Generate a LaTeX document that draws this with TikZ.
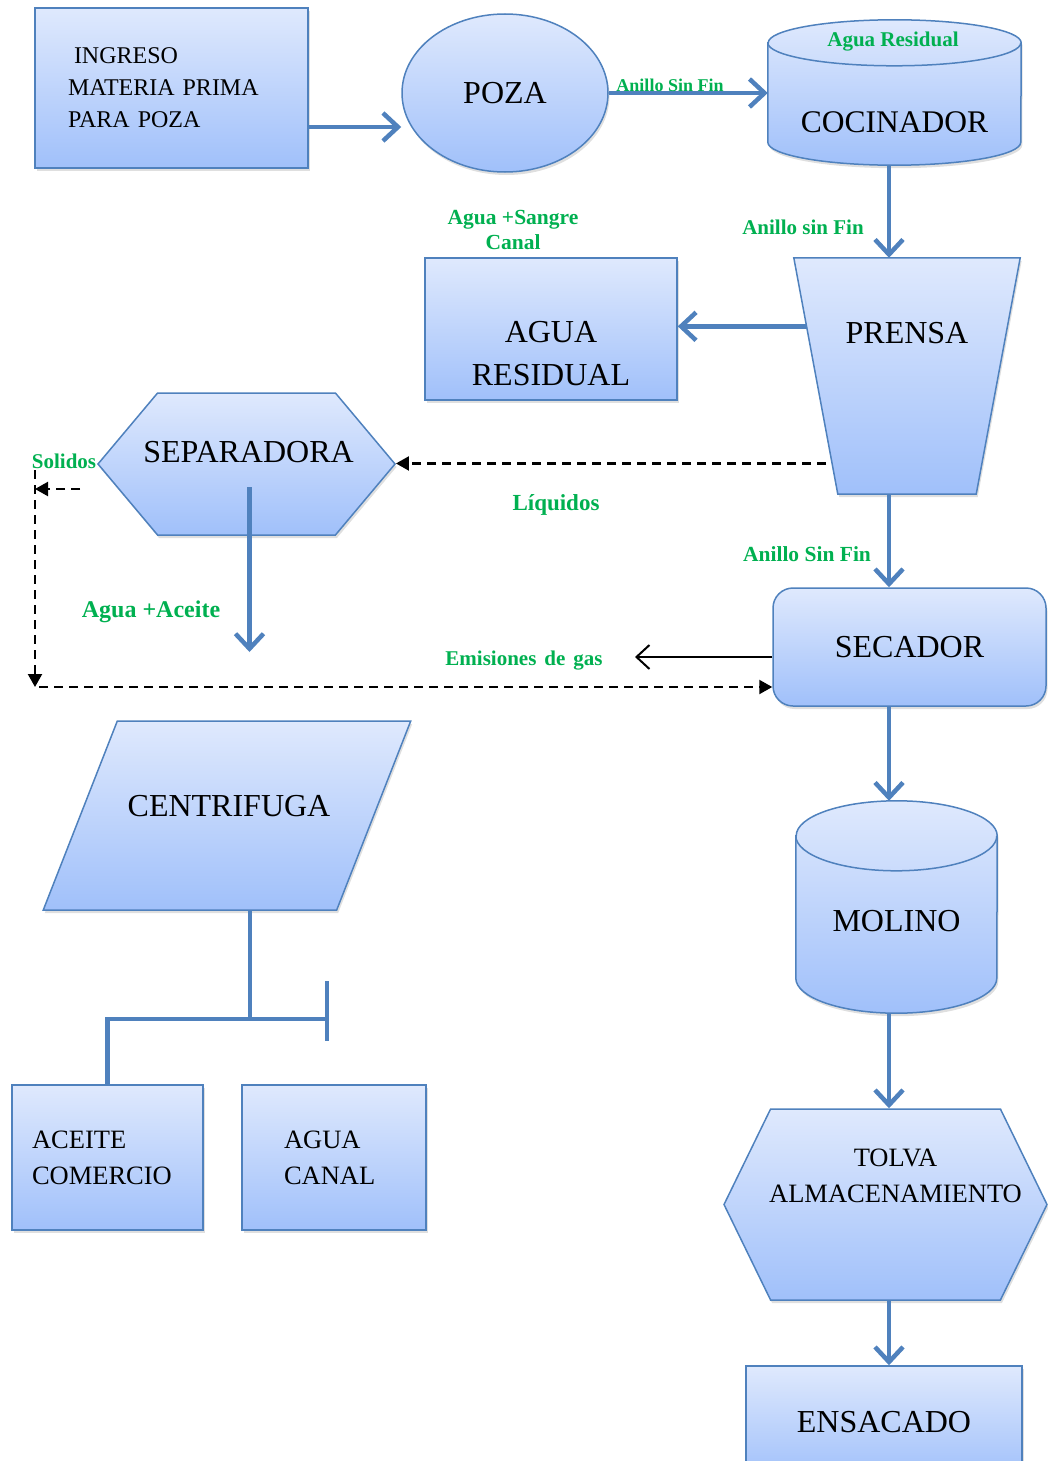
\documentclass[tikz,border=0pt]{standalone}
\usepackage{fontspec}
\setmainfont{Liberation Serif}
\usetikzlibrary{arrows.meta, shapes.geometric, shapes.symbols, shadows, calc}

\definecolor{borde}{RGB}{79,129,189}
\definecolor{arriba}{RGB}{223,233,253}
\definecolor{abajo}{RGB}{160,192,250}
\definecolor{verde}{RGB}{0,176,80}

\tikzset{
  caja/.style={draw=borde, line width=1.5pt, top color=arriba, bottom color=abajo,
    drop shadow={opacity=0.25, shadow xshift=1.5pt, shadow yshift=-3pt}, inner sep=0pt},
  texto/.style={font=\fontsize{32}{43}\selectfont, align=center},
  flecha/.style={draw=borde, line width=4.5pt, -{Straight Barb[length=15pt,width=28pt,line width=4.5pt]}},
  linea/.style={draw=borde, line width=4.5pt},
  rayas/.style={line width=2.2pt, dash pattern=on 9pt off 6pt, -{Triangle[length=13pt,width=14pt]}},
  etiqueta/.style={text=verde, inner sep=0pt, font=\bfseries\fontsize{#1}{#1}\selectfont}
}

\begin{document}
\begin{tikzpicture}[x=1pt, y=-1pt]
  \useasboundingbox (0,0) rectangle (1047,1461);

  % Bloques
  \node[caja, minimum width=273pt, minimum height=160pt, text width=207pt, align=left,
    font=\fontsize{24}{32}\selectfont] (ingreso) at (171.5,88)
    {\hspace{6pt}INGRESO\\MATERIA PRIMA\\PARA POZA};
  \node[caja, ellipse, minimum width=206pt, minimum height=158pt,
    font=\fontsize{32}{36}\selectfont] (poza) at (505,93) {POZA};
  % cocinador (cilindro)
  \node[minimum width=253pt, minimum height=145pt, inner sep=0pt] (cocinador) at (894.5,92.5) {};
  \draw[caja] ([yshift=-23pt]cocinador.north west) -- ([yshift=23pt]cocinador.south west)
    arc[start angle=180, end angle=360, x radius=126.5pt, y radius=23pt]
    -- ([yshift=-23pt]cocinador.north east)
    arc[start angle=0, end angle=180, x radius=126.5pt, y radius=23pt] -- cycle;
  \draw[borde, line width=1.5pt] ([yshift=-23pt]cocinador.north west)
    arc[start angle=180, end angle=360, x radius=126.5pt, y radius=23pt];
  \node[texto, font=\fontsize{31.5}{36}\selectfont] (cocinadortxt) at ([yshift=-30pt]cocinador.center) {COCINADOR};
  % prensa (trapecio)
  \node[minimum width=226pt, minimum height=236pt, inner sep=0pt] (prensa) at (907,376) {};
  \draw[caja] (prensa.north west) -- (prensa.north east) -- ([xshift=-44pt]prensa.south east)
    -- ([xshift=44pt]prensa.south west) -- cycle;
  \node[texto] (prensatxt) at ([yshift=43pt]prensa.center) {PRENSA};
  \node[caja, minimum width=252pt, minimum height=142pt,
    label={[texto, yshift=-25pt]center:AGUA\\RESIDUAL}] (aguares) at (551,329) {};
  \node[caja, signal, signal to=west and east, signal pointer angle=100,
    minimum width=297pt, minimum height=142pt,
    label={[texto, yshift=12pt, xshift=2pt]center:SEPARADORA}] (separadora) at (246.5,464) {};
  \node[caja, rounded corners=20pt, minimum width=273pt, minimum height=118pt,
    font=\fontsize{32}{36}\selectfont] (secador) at (909.5,647) {SECADOR};
  % molino (cilindro)
  \node[minimum width=201pt, minimum height=212pt, inner sep=0pt] (molino) at (896.5,907) {};
  \draw[caja] ([yshift=-35pt]molino.north west) -- ([yshift=35pt]molino.south west)
    arc[start angle=180, end angle=360, x radius=100.5pt, y radius=35pt]
    -- ([yshift=-35pt]molino.north east)
    arc[start angle=0, end angle=180, x radius=100.5pt, y radius=35pt] -- cycle;
  \draw[borde, line width=1.5pt] ([yshift=-35pt]molino.north west)
    arc[start angle=180, end angle=360, x radius=100.5pt, y radius=35pt];
  \node[texto] (molinotxt) at ([yshift=-14pt]molino.center) {MOLINO};
  \node[caja, signal, signal to=west and east, signal pointer angle=128,
    minimum width=323pt, minimum height=191pt,
    label={[align=center, font=\fontsize{26.5}{36}\selectfont, yshift=29pt, xshift=10pt]center:TOLVA\\ALMACENAMIENTO}] (tolva) at (885.5,1204.5) {};
  \node[caja, minimum width=276pt, minimum height=112pt,
    font=\fontsize{32}{36}\selectfont] (ensacado) at (884,1422) {ENSACADO};
  \node[caja, trapezium, trapezium left angle=68.6, trapezium right angle=111.4,
    trapezium stretches=true, minimum width=368pt, minimum height=189pt, inner sep=4pt,
    label={[texto, yshift=9pt, xshift=2pt]center:CENTRIFUGA}] (centrifuga) at (227,815.5) {\phantom{M}};
  \node[caja, minimum width=191pt, minimum height=145pt, text width=151pt, align=left,
    font=\fontsize{26.5}{36}\selectfont] (aceite) at (107.5,1157.5) {ACEITE\\COMERCIO};
  \node[caja, minimum width=184pt, minimum height=145pt, text width=100pt, align=left,
    font=\fontsize{26.5}{36}\selectfont] (canal) at (334,1157.5) {AGUA\\CANAL};

  % Puntos auxiliares
  \coordinate (eje) at (889,0);
  \coordinate (a1) at ([yshift=-39pt]ingreso.east);
  \coordinate (p1) at ($(prensa.north west)!0.29!([xshift=44pt]prensa.south west)$);
  \coordinate (p2) at ($(prensa.north west)!0.87!([xshift=44pt]prensa.south west)$);
  \coordinate (s1) at ([yshift=-10pt]secador.west);
  \coordinate (gas) at (635,657);
  \coordinate (sol1) at (80,489);
  \coordinate (sol2) at (35,489);
  \coordinate (sol3) at (35,470);
  \coordinate (esq) at (35,687);
  \coordinate (sep1) at ([xshift=3pt,yshift=-23pt]separadora.center);
  \coordinate (rama) at (250,1019);
  \coordinate (tope) at (327,1019);

  % Flujo principal
  \draw[flecha] (a1) -- (a1 -| poza.west);
  \draw[flecha] (poza.east) -- (poza.east -| cocinador.west);
  \draw[flecha] (cocinador.south -| eje) -- (prensa.north -| eje);
  \draw[flecha] (p1) -- (p1 -| aguares.east);
  \draw[flecha] (prensa.south -| eje) -- (secador.north -| eje);
  \draw[flecha] (secador.south -| eje) -- (molino.north -| eje);
  \draw[flecha] (molino.south -| eje) -- (tolva.north -| eje);
  \draw[flecha] (tolva.south -| eje) -- (ensacado.north -| eje);
  \draw[flecha] (sep1) -- ++(0,165);
  \draw[line width=2pt, -{Straight Barb[length=13pt,width=24pt,line width=2pt]}] (s1) -- (gas);

  % Lineas punteadas
  \draw[rayas] ([xshift=-6pt]p2) -- (p2 -| separadora.east);
  \draw[rayas] (sol1) -- (sol2);
  \draw[rayas] (sol3) -- (esq);
  \draw[rayas] ([xshift=4pt]esq) -- (esq -| secador.west);

  % Centrifuga
  \draw[linea] (centrifuga.south -| rama) -- (rama);
  \draw[linea] (rama) -| (aceite.north);
  \draw[linea] (rama) -- (tope);
  \draw[linea] ([yshift=38pt]tope) -- ([yshift=-22pt]tope);

  % Etiquetas
  \node[etiqueta=18pt] (anillo1) at (670,85) {Anillo Sin Fin};
  \node[etiqueta=21pt] (resid) at (893,42) {Agua Residual};
  \node[etiqueta=21pt] (anillo2) at (803,227) {Anillo sin Fin};
  \node[etiqueta=21.5pt, align=center] (sangre) at (513,230) {Agua +Sangre\\[4pt]Canal};
  \node[etiqueta=23pt] (liq) at (556,505) {Líquidos};
  \node[etiqueta=21pt] (solidos) at (64,461) {Solidos};
  \node[etiqueta=21.5pt] (anillo3) at (807,554) {Anillo Sin Fin};
  \node[etiqueta=24pt] (acei) at (151,612) {Agua +Aceite};
  \node[etiqueta=21pt] (emis) at (524,661) {Emisiones\hspace{8pt}de\hspace{8pt}gas};
\end{tikzpicture}
\end{document}
